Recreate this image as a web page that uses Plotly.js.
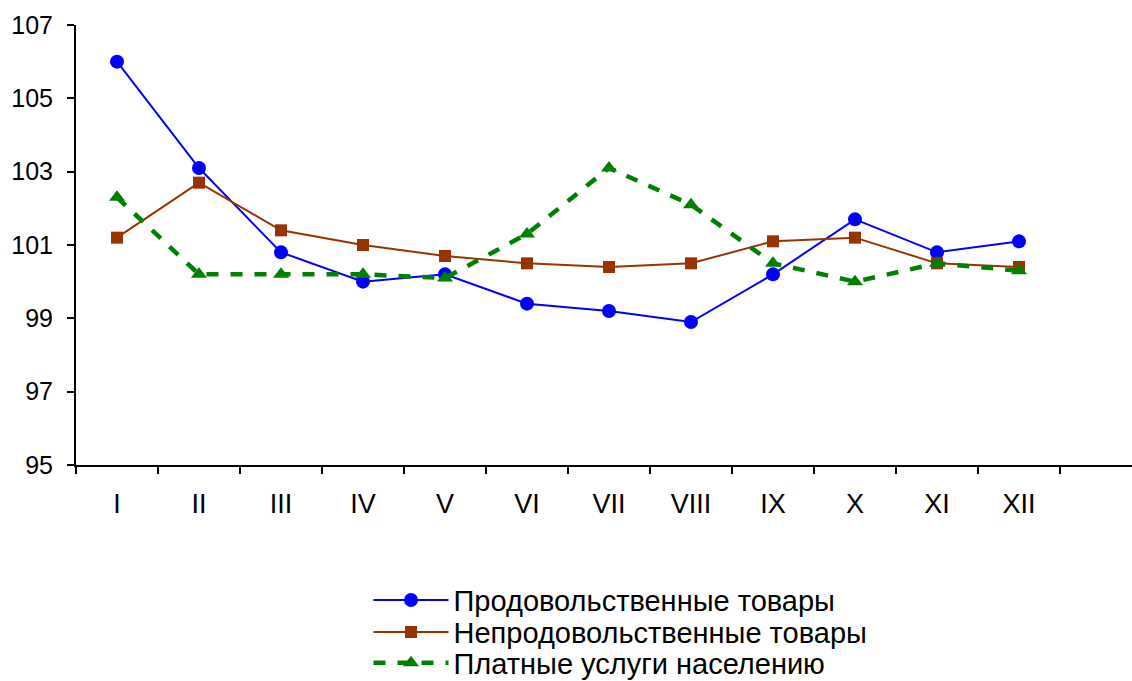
<!DOCTYPE html>
<html>
<head>
<meta charset="utf-8">
<script src="https://cdn.plot.ly/plotly-3.0.1.min.js"></script>
<style>html,body{margin:0;padding:0;background:#fff;}#chart{width:1132px;height:681px;}</style>
</head>
<body>
<div id="chart"></div>
<script>
const months = ["I","II","III","IV","V","VI","VII","VIII","IX","X","XI","XII"];
const food = [106.0,103.1,100.8,100.0,100.2,99.4,99.2,98.9,100.2,101.7,100.8,101.1];
const nonFood = [101.2,102.7,101.4,101.0,100.7,100.5,100.4,100.5,101.1,101.2,100.5,100.4];
const services = [102.3,100.2,100.2,100.2,100.1,101.3,103.1,102.1,100.5,100.0,100.5,100.3];
const yTicks = [95,97,99,101,103,105,107];

const traces = [
  {x: months, y: food, name: "Продовольственные товары", type: "scatter", mode: "lines+markers", legend: "legend",
   line: {color: "#0000FF", width: 2}, marker: {symbol: "circle", size: 14, color: "#0000FF"}},
  {x: months, y: nonFood, name: "Непродовольственные товары", type: "scatter", mode: "lines+markers", legend: "legend2",
   line: {color: "#993300", width: 2}, marker: {symbol: "square", size: 12, color: "#993300"}},
  {x: months, y: services, name: "Платные услуги населению", type: "scatter", mode: "lines+markers", legend: "legend3",
   line: {color: "#008000", width: 4.5, dash: "12px,12px"}, marker: {symbol: "triangle-up", size: 14, color: "#008000"}}
];

function leg(y) {
  return {x: 0.277, y: y, xanchor: "left", yanchor: "middle", itemwidth: 75,
          font: {size: 29}, bgcolor: "rgba(0,0,0,0)", borderwidth: 0};
}

const layout = {
  width: 1132, height: 681,
  margin: {l: 76, r: 0, t: 25, b: 216, autoexpand: false},
  paper_bgcolor: "#fff", plot_bgcolor: "#fff",
  font: {family: "Liberation Sans, Arial, sans-serif", size: 24, color: "#000"},
  showlegend: true,
  legend: leg(-0.307),
  legend2: leg(-0.380),
  legend3: leg(-0.450),
  xaxis: {type: "category", range: [-0.5, 12.378], tickson: "boundaries",
          ticks: "outside", ticklen: 7, tickwidth: 2, tickcolor: "#000",
          showline: true, linecolor: "#000", linewidth: 2, showgrid: false, zeroline: false,
          ticklabelstandoff: 14, tickfont: {size: 27}},
  yaxis: {range: [95, 107], tickvals: yTicks, ticktext: yTicks.map(String),
          ticks: "outside", ticklen: 7, tickwidth: 2, tickcolor: "#000",
          showline: true, linecolor: "#000", linewidth: 2, showgrid: false, zeroline: false,
          ticklabelstandoff: 9, tickfont: {size: 25}}
};

Plotly.newPlot("chart", traces, layout, {displayModeBar: false, staticPlot: true});
</script>
</body>
</html>
